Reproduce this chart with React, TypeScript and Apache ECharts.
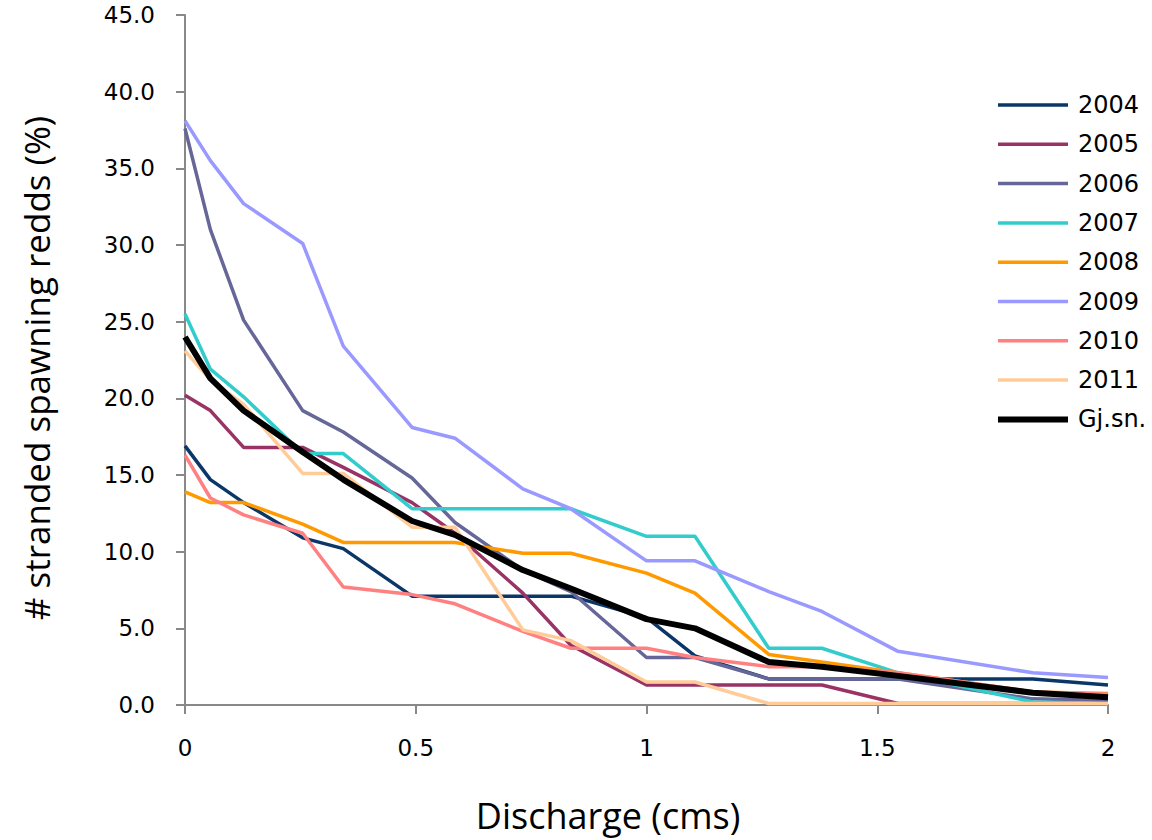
import React, { useEffect, useRef } from "react";
import * as echarts from "echarts";

const discharge = [0, 0.055, 0.127, 0.255, 0.343, 0.492, 0.585, 0.732, 0.836, 1.0, 1.105, 1.265, 1.38, 1.545, 1.837, 2.0];

const s2004 = [16.9, 14.7, 13.2, 10.9, 10.2, 7.1, 7.1, 7.1, 7.1, 5.7, 3.2, 1.7, 1.7, 1.7, 1.7, 1.3];
const s2005 = [20.2, 19.2, 16.8, 16.8, 15.5, 13.2, 11.2, 7.3, 3.9, 1.3, 1.3, 1.3, 1.3, 0.1, 0.1, 0.1];
const s2006 = [37.6, 31.0, 25.1, 19.2, 17.8, 14.8, 11.9, 8.8, 7.4, 3.1, 3.1, 1.7, 1.7, 1.7, 0.4, 0.3];
const s2007 = [25.5, 21.9, 20.1, 16.4, 16.4, 12.8, 12.8, 12.8, 12.8, 11.0, 11.0, 3.7, 3.7, 2.1, 0.2, 0.1];
const s2008 = [13.9, 13.2, 13.2, 11.8, 10.6, 10.6, 10.6, 9.9, 9.9, 8.6, 7.3, 3.3, 2.8, 2.1, 0.85, 0.75];
const s2009 = [38.1, 35.5, 32.7, 30.1, 23.4, 18.1, 17.4, 14.1, 12.8, 9.4, 9.4, 7.4, 6.1, 3.5, 2.1, 1.8];
const s2010 = [16.3, 13.5, 12.4, 11.2, 7.7, 7.2, 6.6, 4.8, 3.7, 3.7, 3.1, 2.5, 2.5, 2.1, 0.85, 0.7];
const s2011 = [23.1, 21.2, 19.6, 15.1, 15.1, 11.6, 11.6, 4.9, 4.2, 1.5, 1.5, 0.1, 0.1, 0.1, 0.1, 0.1];
const gjsn = [24.0, 21.3, 19.2, 16.5, 14.7, 12.0, 11.1, 8.8, 7.6, 5.6, 5.0, 2.8, 2.5, 1.9, 0.8, 0.5];

const seriesNames = ["2004", "2005", "2006", "2007", "2008", "2009", "2010", "2011", "Gj.sn."];
const seriesValues = [s2004, s2005, s2006, s2007, s2008, s2009, s2010, s2011, gjsn];
const seriesColors = ["#0b3768", "#993366", "#666699", "#33cccc", "#ff9900", "#9999ff", "#ff8080", "#ffcc99", "#000000"];

const yTicks = { min: 0, max: 45, interval: 5 };
const xTicks = { min: 0, max: 2, interval: 0.5 };

export default function App() {
  const ref = useRef<HTMLDivElement>(null);
  useEffect(() => {
    if (!ref.current) return;
    const chart = echarts.init(ref.current, null, { renderer: "svg" });
    const widthOf = (name: string) => (name === "Gj.sn." ? 6 : 3.5);
    const series = seriesNames.map((name, i) => ({
      name,
      type: "line",
      data: discharge.map((x, j) => [x, seriesValues[i][j]]),
      symbol: "none",
      showSymbol: false,
      lineStyle: { color: seriesColors[i], width: widthOf(name) },
      itemStyle: { color: seriesColors[i] },
      z: name === "Gj.sn." ? 5 : 2,
    }));
    chart.setOption({
      animation: false,
      backgroundColor: "#ffffff",
      grid: { left: 185, right: 44, top: 15, bottom: 135, containLabel: false },
      legend: {
        orient: "vertical",
        left: 990,
        top: 88,
        itemWidth: 70,
        itemHeight: 1,
        itemGap: 15.3,
        data: seriesNames.map((name) => ({ name, lineStyle: { width: widthOf(name) } })),
        textStyle: { fontFamily: "DejaVu Sans", fontSize: 24, color: "#000", padding: [0, 0, 0, 5] },
      },
      xAxis: {
        type: "value",
        min: xTicks.min,
        max: xTicks.max,
        interval: xTicks.interval,
        axisLine: { lineStyle: { color: "#888888", width: 2 } },
        axisTick: { show: true, inside: false, length: 9, lineStyle: { color: "#888888", width: 2 } },
        axisLabel: { margin: 31, fontFamily: "DejaVu Sans", fontSize: 23, color: "#000" },
        splitLine: { show: false },
      },
      yAxis: {
        type: "value",
        min: yTicks.min,
        max: yTicks.max,
        interval: yTicks.interval,
        axisLine: { show: true, lineStyle: { color: "#888888", width: 2 } },
        axisTick: { show: true, inside: false, length: 9, lineStyle: { color: "#888888", width: 2 } },
        axisLabel: {
          margin: 30,
          fontFamily: "DejaVu Sans",
          fontSize: 23,
          color: "#000",
          formatter: (v: number) => v.toFixed(1),
        },
        splitLine: { show: false },
      },
      graphic: [
        {
          type: "text",
          x: 36,
          y: 368,
          rotation: Math.PI / 2,
          style: {
            text: "# stranded spawning redds (%)",
            fontFamily: "Open Sans",
            fontSize: 35,
            fill: "#000",
            align: "center",
            verticalAlign: "middle",
          },
        },
        {
          type: "text",
          x: 608,
          y: 815,
          style: {
            text: "Discharge (cms)",
            fontFamily: "Open Sans",
            fontSize: 36,
            fill: "#000",
            align: "center",
            verticalAlign: "middle",
          },
        },
      ],
      series,
    });
    return () => chart.dispose();
  }, []);
  return <div ref={ref} style={{ position: "absolute", left: 0, top: 0, width: 1152, height: 840 }} />;
}
